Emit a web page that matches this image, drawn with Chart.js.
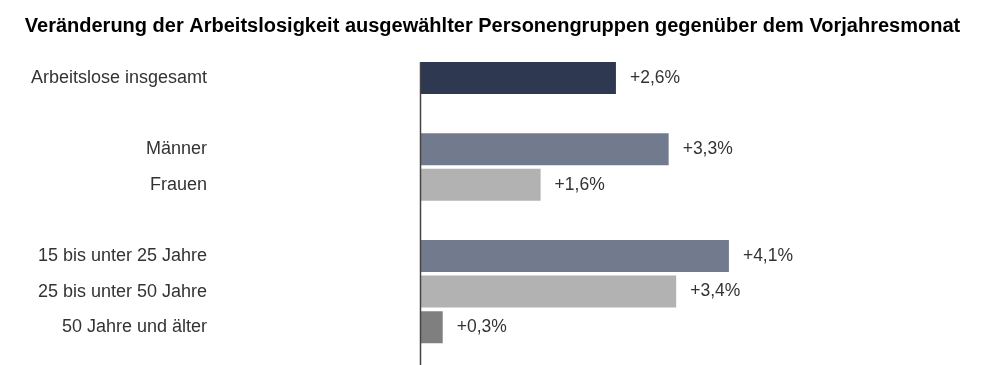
<!DOCTYPE html>
<html>
<head>
<meta charset="utf-8">
<script src="https://cdn.jsdelivr.net/npm/chart.js@4/dist/chart.umd.min.js"></script>
<style>
  html, body { margin: 0; padding: 0; background: #fff; }
  #wrap { width: 999px; height: 365px; }
</style>
</head>
<body>
<div id="wrap"><canvas id="chart"></canvas></div>
<script>
// categories (empty strings are the gaps between groups)
const categories = [
  'Arbeitslose insgesamt',
  '',
  'Männer',
  'Frauen',
  '',
  '15 bis unter 25 Jahre',
  '25 bis unter 50 Jahre',
  '50 Jahre und älter'
];
// change vs. previous year's month, in percent
const changes = [2.6, null, 3.3, 1.6, null, 4.1, 3.4, 0.3];
const barColors = ['#2e3850', null, '#727b8e', '#b2b2b2', null, '#727b8e', '#b2b2b2', '#7f7f7f'];

const FONT = '"Liberation Sans", Arial, sans-serif';

const fmt = v => '+' + v.toFixed(1).replace('.', ',') + '%';

// vertical zero line, reaching down to the bottom edge
const zeroLine = {
  id: 'zeroLine',
  afterDatasetsDraw(chart) {
    const { ctx, chartArea, scales } = chart;
    const x = Math.round(scales.x.getPixelForValue(0)) + 0.5;
    ctx.save();
    ctx.strokeStyle = '#444';
    ctx.lineWidth = 1.5;
    ctx.beginPath();
    ctx.moveTo(x, chartArea.top + 2);
    ctx.lineTo(x, chart.height);
    ctx.stroke();
    ctx.restore();
  }
};

// value labels to the right of each bar
const valueLabels = {
  id: 'valueLabels',
  afterDatasetsDraw(chart) {
    const { ctx } = chart;
    const meta = chart.getDatasetMeta(0);
    ctx.save();
    ctx.font = '17.5px ' + FONT;
    ctx.fillStyle = '#333';
    ctx.textAlign = 'left';
    ctx.textBaseline = 'middle';
    meta.data.forEach((bar, i) => {
      const v = changes[i];
      if (v == null) return;
      ctx.fillText(fmt(v), bar.x + 14, bar.y);
    });
    ctx.restore();
  }
};

new Chart(document.getElementById('chart'), {
  type: 'bar',
  data: {
    labels: categories,
    datasets: [{
      data: changes,
      backgroundColor: barColors,
      borderWidth: 0,
      categoryPercentage: 1,
      barPercentage: 0.9
    }]
  },
  options: {
    indexAxis: 'y',
    responsive: true,
    maintainAspectRatio: false,
    animation: false,
    devicePixelRatio: 1,
    layout: { padding: { left: 0, right: 14, top: 0, bottom: 20 } },
    plugins: {
      legend: { display: false },
      tooltip: { enabled: false },
      title: {
        display: true,
        text: 'Veränderung der Arbeitslosigkeit ausgewählter Personengruppen gegenüber dem Vorjahresmonat',
        color: '#000',
        font: { family: FONT, size: 20, weight: 'bold' },
        padding: { top: 14, bottom: 22.2 }
      }
    },
    scales: {
      x: {
        display: false,
        min: -2.71,
        max: 7.5
      },
      y: {
        afterFit(scale) { scale.width = 216; },
        border: { display: false },
        grid: { display: false, drawTicks: false },
        ticks: {
          padding: 9,
          color: '#333',
          font: { family: FONT, size: 18 }
        }
      }
    }
  },
  plugins: [zeroLine, valueLabels]
});
</script>
</body>
</html>
